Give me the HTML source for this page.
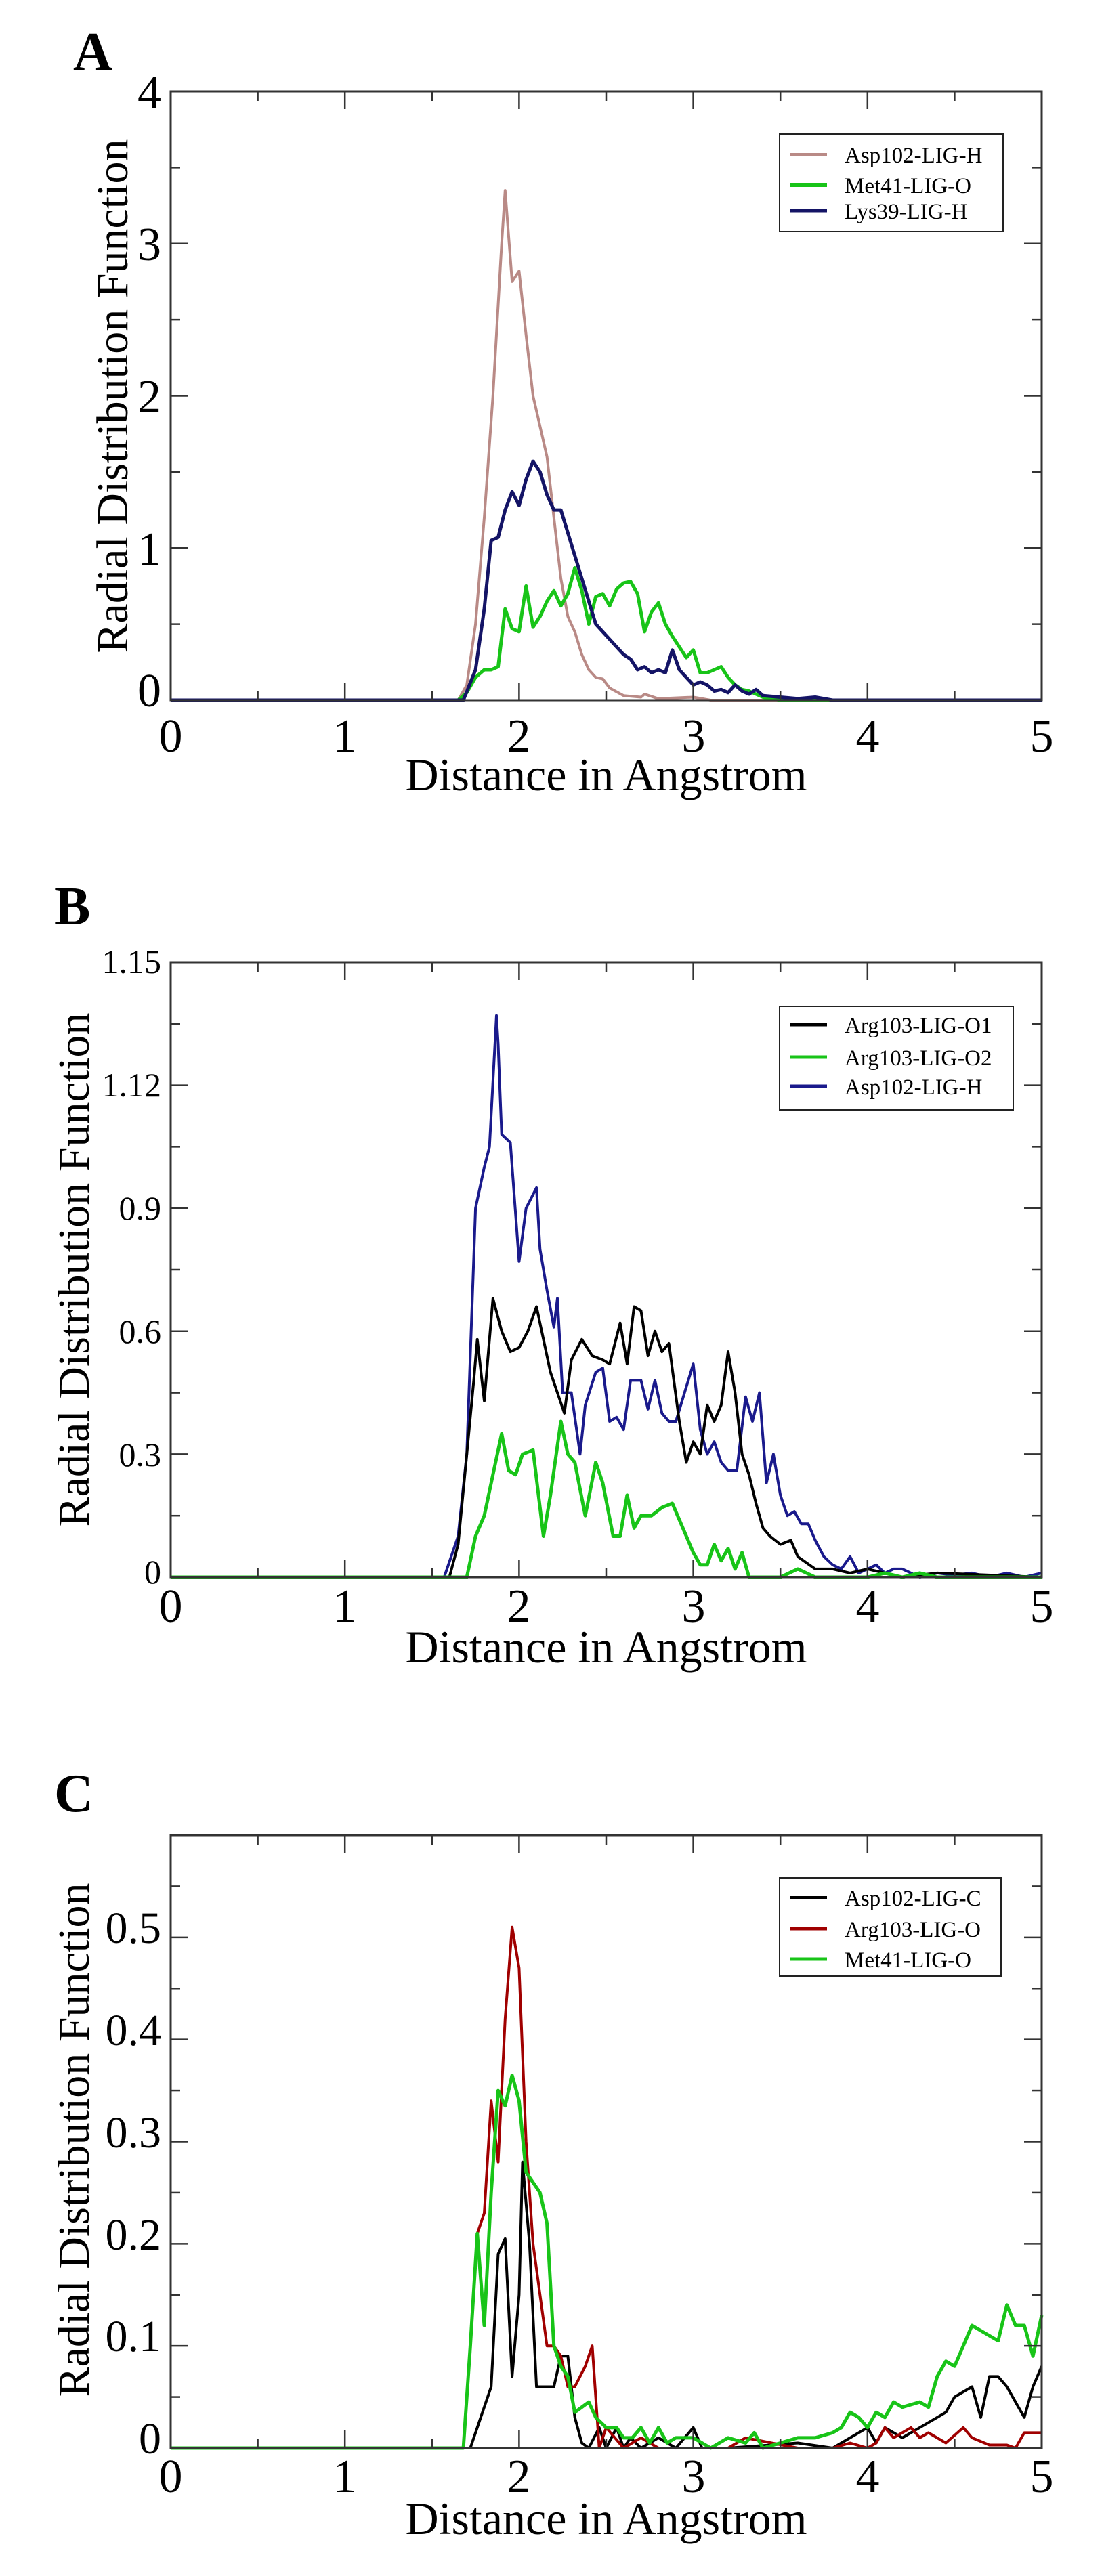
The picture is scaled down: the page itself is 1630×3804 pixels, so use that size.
<!DOCTYPE html>
<html><head><meta charset="utf-8"><style>
html,body{margin:0;padding:0;background:#fff;}
svg{display:block;}
text{font-family:"Liberation Serif",serif;fill:#000;}
</style></head><body>
<svg id="s" width="1630" height="3804" viewBox="0 0 1630 3804" xmlns="http://www.w3.org/2000/svg">
<rect width="1630" height="3804" fill="#fff"/>
<!-- Panel letters -->
<text x="108" y="103" font-size="80" font-weight="bold">A</text>
<text x="80" y="1365" font-size="80" font-weight="bold">B</text>
<text x="80" y="2675" font-size="80" font-weight="bold">C</text>

<!-- Panel A labels -->
<g font-size="70" text-anchor="middle">
<text x="252" y="1110">0</text><text x="509" y="1110">1</text><text x="766" y="1110">2</text><text x="1024" y="1110">3</text><text x="1281" y="1110">4</text><text x="1538" y="1110">5</text>
</g>
<g font-size="70" text-anchor="end">
<text x="238" y="1043">0</text><text x="238" y="834">1</text><text x="238" y="609">2</text><text x="238" y="384">3</text><text x="238" y="159">4</text>
</g>
<text x="895" y="1167" font-size="68" text-anchor="middle">Distance in Angstrom</text>
<text transform="translate(188,585) rotate(-90)" font-size="66" text-anchor="middle">Radial Distribution Function</text>

<!-- Panel B labels -->
<g font-size="70" text-anchor="middle">
<text x="252" y="2395">0</text><text x="509" y="2395">1</text><text x="766" y="2395">2</text><text x="1024" y="2395">3</text><text x="1281" y="2395">4</text><text x="1538" y="2395">5</text>
</g>
<g font-size="50" text-anchor="end">
<text x="238" y="2338">0</text><text x="238" y="2165">0.3</text><text x="238" y="1983">0.6</text><text x="238" y="1801">0.9</text><text x="238" y="1619">1.12</text><text x="238" y="1437">1.15</text>
</g>
<text x="895" y="2455" font-size="68" text-anchor="middle">Distance in Angstrom</text>
<text transform="translate(131,1875) rotate(-90)" font-size="66" text-anchor="middle">Radial Distribution Function</text>

<!-- Panel C labels -->
<g font-size="70" text-anchor="middle">
<text x="252" y="3680">0</text><text x="509" y="3680">1</text><text x="766" y="3680">2</text><text x="1024" y="3680">3</text><text x="1281" y="3680">4</text><text x="1538" y="3680">5</text>
</g>
<g font-size="66" text-anchor="end">
<text x="238" y="3623">0</text><text x="238" y="3472">0.1</text><text x="238" y="3322">0.2</text><text x="238" y="3171">0.3</text><text x="238" y="3020">0.4</text><text x="238" y="2869">0.5</text>
</g>
<text x="895" y="3742" font-size="68" text-anchor="middle">Distance in Angstrom</text>
<text transform="translate(131,3160) rotate(-90)" font-size="66" text-anchor="middle">Radial Distribution Function</text>

<!-- Legends -->
<g font-size="33">
<rect x="1151" y="198" width="330" height="144" fill="#fff" stroke="#222" stroke-width="2"/>
<line x1="1166" y1="228" x2="1221" y2="228" stroke="#b98a86" stroke-width="4"/><text x="1247" y="240">Asp102-LIG-H</text>
<line x1="1166" y1="273" x2="1221" y2="273" stroke="#18c418" stroke-width="6"/><text x="1247" y="285">Met41-LIG-O</text>
<line x1="1166" y1="311" x2="1221" y2="311" stroke="#141466" stroke-width="5"/><text x="1247" y="323">Lys39-LIG-H</text>

<rect x="1151" y="1486" width="345" height="153" fill="#fff" stroke="#222" stroke-width="2"/>
<line x1="1166" y1="1513" x2="1221" y2="1513" stroke="#000" stroke-width="5"/><text x="1247" y="1525">Arg103-LIG-O1</text>
<line x1="1166" y1="1561" x2="1221" y2="1561" stroke="#18c418" stroke-width="5"/><text x="1247" y="1573">Arg103-LIG-O2</text>
<line x1="1166" y1="1604" x2="1221" y2="1604" stroke="#1a1a8c" stroke-width="5"/><text x="1247" y="1616">Asp102-LIG-H</text>

<rect x="1151" y="2773" width="327" height="145" fill="#fff" stroke="#222" stroke-width="2"/>
<line x1="1166" y1="2802" x2="1221" y2="2802" stroke="#000" stroke-width="4"/><text x="1247" y="2814">Asp102-LIG-C</text>
<line x1="1166" y1="2848" x2="1221" y2="2848" stroke="#a00000" stroke-width="5"/><text x="1247" y="2860">Arg103-LIG-O</text>
<line x1="1166" y1="2893" x2="1221" y2="2893" stroke="#18c418" stroke-width="5"/><text x="1247" y="2905">Met41-LIG-O</text>
</g>
<g id="dyn"></g>
</svg>
<script>
(function(){
var NS="http://www.w3.org/2000/svg",g=document.getElementById("dyn");
var L=252,R=1538,XU=(R-L)/5;
function el(n,a){var e=document.createElementNS(NS,n);for(var k in a)e.setAttribute(k,a[k]);g.insertBefore(e,g.firstChild);return e;}
function line(n,a){var e=document.createElementNS(NS,n);for(var k in a)e.setAttribute(k,a[k]);g.appendChild(e);return e;}
function panel(T,B,ymax,ymaj,ymin,series){
  var sy=(B-T)/ymax;
  function px(x){return L+x*XU;} function py(y){return B-y*sy;}
  series.forEach(function(s){
    var d=s.p,pts=[];pts.push([0,0]);
    for(var i=0;i<d.length;i+=2)pts.push([d[i],d[i+1]]);
    var str="M"+pts.map(function(p){return px(p[0]).toFixed(1)+","+py(p[1]).toFixed(1);}).join(" L");
    line("path",{d:str,fill:"none",stroke:s.c,"stroke-width":s.w,"stroke-linejoin":"round"});
  });
  line("rect",{x:L,y:T,width:R-L,height:B-T,fill:"none",stroke:"#333","stroke-width":3});
  for(var i=0;i<=10;i++){var x=L+i*XU/2,len=(i%2==0)?26:14;
    line("line",{x1:x,y1:B,x2:x,y2:B-len,stroke:"#333","stroke-width":2.5});
    line("line",{x1:x,y1:T,x2:x,y2:T+len,stroke:"#333","stroke-width":2.5});}
  var n=Math.round(ymax/ymin);
  for(var j=0;j<=n;j++){var y=B-j*ymin*sy,len=(Math.abs((j*ymin)/ymaj-Math.round((j*ymin)/ymaj))<1e-6)?26:14;
    line("line",{x1:L,y1:y,x2:L+len,y2:y,stroke:"#333","stroke-width":2.5});
    line("line",{x1:R,y1:y,x2:R-len,y2:y,stroke:"#333","stroke-width":2.5});}
}
panel(135,1034,4,1,0.5,[
 {c:"#b98a86",w:4,p:[1.65,0,1.7,0.1,1.75,0.5,1.8,1.2,1.85,2.0,1.9,3.0,1.92,3.35,1.96,2.75,2.0,2.82,2.04,2.4,2.08,2.0,2.12,1.8,2.16,1.6,2.2,1.2,2.24,0.8,2.28,0.55,2.32,0.45,2.36,0.3,2.4,0.2,2.44,0.15,2.48,0.14,2.52,0.08,2.6,0.03,2.7,0.02,2.72,0.04,2.8,0.01,3.0,0.02,3.1,0,5,0]},
 {c:"#18c418",w:5,p:[1.65,0,1.7,0.05,1.75,0.15,1.8,0.2,1.84,0.2,1.88,0.22,1.92,0.6,1.96,0.47,2.0,0.45,2.04,0.75,2.08,0.48,2.12,0.55,2.16,0.65,2.2,0.72,2.24,0.62,2.28,0.7,2.32,0.87,2.36,0.72,2.4,0.5,2.44,0.68,2.48,0.7,2.52,0.62,2.56,0.73,2.6,0.77,2.64,0.78,2.68,0.7,2.72,0.45,2.76,0.58,2.8,0.64,2.84,0.5,2.88,0.42,2.92,0.35,2.96,0.28,3.0,0.33,3.04,0.18,3.08,0.18,3.12,0.2,3.16,0.22,3.2,0.15,3.24,0.1,3.28,0.07,3.32,0.06,3.36,0.04,3.4,0.02,3.5,0,5,0]},
 {c:"#141466",w:5,p:[1.68,0,1.75,0.2,1.8,0.6,1.84,1.05,1.88,1.07,1.92,1.25,1.96,1.37,2.0,1.28,2.04,1.45,2.08,1.57,2.12,1.5,2.16,1.35,2.2,1.25,2.24,1.25,2.28,1.1,2.32,0.95,2.36,0.8,2.4,0.65,2.44,0.5,2.48,0.45,2.52,0.4,2.56,0.35,2.6,0.3,2.64,0.27,2.68,0.2,2.72,0.22,2.76,0.18,2.8,0.2,2.84,0.18,2.88,0.33,2.92,0.2,2.96,0.15,3.0,0.1,3.04,0.12,3.08,0.1,3.12,0.06,3.16,0.07,3.2,0.05,3.24,0.1,3.28,0.06,3.32,0.04,3.36,0.07,3.4,0.03,3.5,0.02,3.6,0.01,3.7,0.02,3.8,0,5,0]}
]);
panel(1421,2329,1.5,0.3,0.15,[
 {c:"#1a1a8c",w:4,p:[1.57,0,1.65,0.1,1.7,0.3,1.75,0.9,1.8,1.0,1.83,1.05,1.87,1.37,1.88,1.3,1.9,1.08,1.95,1.06,2.0,0.77,2.04,0.9,2.1,0.95,2.12,0.8,2.16,0.7,2.2,0.61,2.22,0.68,2.25,0.45,2.3,0.45,2.35,0.3,2.38,0.42,2.44,0.5,2.48,0.51,2.52,0.38,2.56,0.39,2.6,0.36,2.64,0.48,2.7,0.48,2.74,0.41,2.78,0.48,2.82,0.4,2.86,0.38,2.9,0.38,2.95,0.45,3.0,0.52,3.04,0.36,3.08,0.3,3.12,0.33,3.16,0.28,3.2,0.26,3.25,0.26,3.3,0.44,3.34,0.38,3.38,0.45,3.42,0.23,3.46,0.3,3.5,0.2,3.54,0.15,3.58,0.16,3.62,0.13,3.66,0.13,3.7,0.09,3.75,0.05,3.8,0.03,3.85,0.02,3.9,0.05,3.95,0.01,4.0,0.02,4.05,0.03,4.1,0.01,4.15,0.02,4.2,0.02,4.3,0.0,4.4,0.01,4.5,0.005,4.6,0.01,4.7,0.0,4.8,0.01,4.9,0.0,5,0.01]},
 {c:"#000",w:4,p:[1.6,0,1.65,0.08,1.7,0.3,1.74,0.48,1.76,0.58,1.8,0.43,1.85,0.68,1.9,0.6,1.95,0.55,2.0,0.56,2.05,0.6,2.1,0.66,2.14,0.58,2.18,0.5,2.22,0.45,2.26,0.4,2.3,0.53,2.36,0.58,2.42,0.54,2.48,0.53,2.52,0.52,2.58,0.62,2.62,0.52,2.66,0.66,2.7,0.65,2.74,0.54,2.78,0.6,2.82,0.55,2.86,0.57,2.92,0.38,2.96,0.28,3.0,0.33,3.04,0.3,3.08,0.42,3.12,0.38,3.16,0.42,3.2,0.55,3.24,0.45,3.28,0.3,3.32,0.25,3.36,0.18,3.4,0.12,3.44,0.1,3.5,0.08,3.56,0.09,3.6,0.05,3.7,0.02,3.8,0.02,3.9,0.01,4.0,0.02,4.2,0.0,4.4,0.01,5,0]},
 {c:"#18c418",w:5,p:[1.7,0,1.75,0.1,1.8,0.15,1.85,0.25,1.9,0.35,1.94,0.26,1.98,0.25,2.02,0.3,2.08,0.31,2.14,0.1,2.18,0.2,2.24,0.38,2.28,0.3,2.32,0.28,2.38,0.15,2.44,0.28,2.48,0.23,2.54,0.1,2.58,0.1,2.62,0.2,2.66,0.12,2.7,0.15,2.76,0.15,2.82,0.17,2.88,0.18,2.94,0.12,3.0,0.06,3.04,0.03,3.08,0.03,3.12,0.08,3.16,0.04,3.2,0.07,3.24,0.02,3.28,0.06,3.32,0.0,3.5,0.0,3.6,0.02,3.7,0.0,4.0,0.0,4.1,0.01,4.2,0.0,4.3,0.01,4.4,0.0,5,0]}
]);
panel(2710,3615,0.6,0.1,0.05,[
 {c:"#000",w:4,p:[1.72,0,1.78,0.03,1.84,0.06,1.88,0.19,1.92,0.205,1.96,0.07,2.0,0.15,2.02,0.28,2.06,0.2,2.1,0.06,2.16,0.06,2.2,0.06,2.24,0.09,2.28,0.09,2.32,0.03,2.36,0.005,2.4,0.0,2.46,0.02,2.5,0.0,2.56,0.02,2.6,0.0,2.64,0.01,2.7,0.0,2.8,0.01,2.9,0.0,3.0,0.02,3.05,0.0,3.2,0.0,3.6,0.005,3.8,0.0,4.0,0.02,4.05,0.005,4.1,0.02,4.2,0.01,4.3,0.02,4.4,0.03,4.45,0.035,4.5,0.05,4.6,0.06,4.65,0.03,4.7,0.07,4.75,0.07,4.8,0.06,4.85,0.045,4.9,0.03,4.95,0.06,5,0.08]},
 {c:"#a00000",w:4,p:[1.68,0,1.72,0.1,1.76,0.21,1.8,0.23,1.84,0.34,1.88,0.28,1.92,0.42,1.96,0.51,2.0,0.47,2.04,0.3,2.08,0.2,2.12,0.15,2.16,0.1,2.2,0.1,2.24,0.09,2.28,0.06,2.32,0.06,2.38,0.08,2.42,0.1,2.46,0.0,2.5,0.02,2.6,0.0,2.7,0.01,2.8,0.0,3.0,0.0,3.2,0.0,3.3,0.01,3.6,0.0,3.8,0.0,3.9,0.005,4.0,0.0,4.05,0.005,4.1,0.02,4.15,0.01,4.25,0.02,4.3,0.01,4.35,0.015,4.45,0.005,4.55,0.02,4.6,0.01,4.7,0.003,4.8,0.003,4.85,0.0,4.9,0.015,5,0.015]},
 {c:"#18c418",w:5,p:[1.68,0,1.72,0.1,1.76,0.21,1.8,0.12,1.84,0.25,1.88,0.35,1.92,0.335,1.96,0.365,2.0,0.34,2.04,0.27,2.08,0.26,2.12,0.25,2.16,0.22,2.2,0.1,2.24,0.08,2.28,0.07,2.32,0.035,2.36,0.04,2.4,0.045,2.44,0.03,2.5,0.02,2.56,0.02,2.6,0.01,2.65,0.01,2.7,0.02,2.75,0.005,2.8,0.02,2.85,0.005,2.9,0.01,3.0,0.01,3.1,0.0,3.2,0.01,3.3,0.005,3.35,0.015,3.4,0.0,3.5,0.005,3.6,0.01,3.7,0.01,3.8,0.015,3.85,0.02,3.9,0.035,3.95,0.03,4.0,0.02,4.05,0.035,4.1,0.03,4.15,0.045,4.2,0.04,4.3,0.045,4.35,0.04,4.4,0.07,4.45,0.085,4.5,0.08,4.6,0.12,4.7,0.11,4.75,0.105,4.8,0.14,4.85,0.12,4.9,0.12,4.95,0.09,5,0.13]}
]);
// keep legends on top
var s=document.getElementById("s");s.insertBefore(g,s.querySelector("g[font-size='33']"));
})();
</script>
</body></html>
